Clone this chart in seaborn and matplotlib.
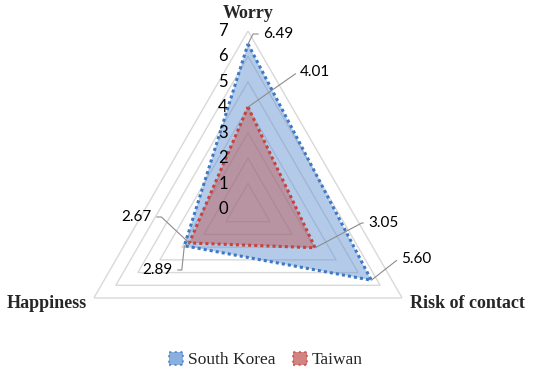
import numpy as np
import pandas as pd
import matplotlib
matplotlib.use("Agg")
import matplotlib.pyplot as plt
import seaborn as sns
from matplotlib.patches import Patch
from matplotlib.font_manager import FontProperties

# Datos
categorias = ["Worry", "Risk of contact", "Happiness"]
paises = ["South Korea", "Taiwan"]
valores_corea = [6.49, 5.60, 2.89]
valores_taiwan = [4.01, 3.05, 2.67]
niveles = [0, 1, 2, 3, 4, 5, 6, 7]

colores = {"South Korea": "#3F78C4", "Taiwan": "#C8423F"}
rellenos = {"South Korea": ("#5B8FD0", 0.46), "Taiwan": ("#C0504D", 0.45)}

sns.set_style("white")
plt.rcParams["font.family"] = ["Lato", "DejaVu Sans"]

# Angulos (Worry arriba, sentido horario)
angulos = np.linspace(0, 2 * np.pi, len(categorias), endpoint=False)
angulos_cerrados = np.append(angulos, 2 * np.pi)

filas = []
for pais, vals in zip(paises, [valores_corea, valores_taiwan]):
    for t, v in zip(angulos_cerrados, vals + vals[:1]):
        filas.append({"pais": pais, "theta": t, "valor": v})
df = pd.DataFrame(filas)

fig = plt.figure(figsize=(5.36, 3.69), dpi=100)
ax = fig.add_axes([70 / 536, -18 / 369, 356 / 536, 356 / 369], projection="polar")
ax.set_theta_offset(np.pi / 2)
ax.set_theta_direction(-1)
ax.set_ylim(0, 7)
ax.grid(False)
ax.spines["polar"].set_visible(False)
ax.patch.set_alpha(0)

# Rejilla triangular
for nivel in niveles[1:]:
    ax.plot(angulos_cerrados, [nivel] * len(angulos_cerrados), color="#D9D9D9", lw=1, zorder=1)

# Rellenos
for pais in paises:
    d = df[df["pais"] == pais]
    c, a = rellenos[pais]
    ax.fill(d["theta"], d["valor"], color=c, alpha=a, lw=0, zorder=2)

# Lineas punteadas
sns.lineplot(data=df, x="theta", y="valor", hue="pais", palette=colores,
             sort=False, estimator=None, ax=ax, legend=False,
             linestyle=(0, (1, 1)), linewidth=2.2, zorder=3)
ax.set_xlabel("")
ax.set_ylabel("")
ax.set_xticks([])
ax.set_yticks([])
ax.set_ylim(0, 7)

# Etiquetas del eje radial
for nivel in niveles:
    ax.annotate(str(nivel), xy=(0, nivel), xytext=(-25, 0), textcoords="offset pixels",
                ha="center", va="center", fontsize=12, color="black")

# Etiquetas de datos con lineas guia
etiquetas = [
    (0, valores_corea[0], (263, 369 - 34), "left", 63),
    (0, valores_taiwan[0], (300, 369 - 72), "left", 35),
    (angulos[1], valores_taiwan[1], (368, 369 - 223), "left", 28),
    (angulos[1], valores_corea[1], (401, 369 - 259), "left", 38),
    (angulos[2], valores_taiwan[2], (152, 369 - 217), "right", -43),
    (angulos[2], valores_corea[2], (173, 369 - 270), "right", 84),
]
for th, v, pos, ha, angB in etiquetas:
    ax.annotate(f"{v:.2f}", xy=(th, v), xytext=pos, textcoords="figure pixels",
                ha=ha, va="center", fontsize=11, color="black", zorder=5,
                arrowprops=dict(arrowstyle="-", color="#8C8C8C", lw=0.8,
                                shrinkA=1, shrinkB=0,
                                connectionstyle=f"angle,angleA=0,angleB={angB},rad=0"))

# Nombres de categorias
serif = "Liberation Serif"
fig.text(248 / 536, 1 - 14 / 369, "Worry", ha="center", va="center",
         fontsize=13, fontweight="bold", family=serif)
fig.text(467 / 536, 1 - 303 / 369, "Risk of contact", ha="center", va="center",
         fontsize=13, fontweight="bold", family=serif)
fig.text(47 / 536, 1 - 303 / 369, "Happiness", ha="center", va="center",
         fontsize=13, fontweight="bold", family=serif)

# Leyenda
handles = [Patch(facecolor=rellenos[p][0], alpha=0.7, edgecolor=colores[p],
                 linestyle=":", lw=1.5, label=p) for p in paises]
fig.legend(handles=handles, loc="center", bbox_to_anchor=(266 / 536, 9 / 369),
           ncol=2, frameon=False, handlelength=0.8, handleheight=0.8,
           handletextpad=0.3, columnspacing=1.0,
           prop=FontProperties(family=serif, size=12.5))

fig.savefig("out.png", dpi=100)
